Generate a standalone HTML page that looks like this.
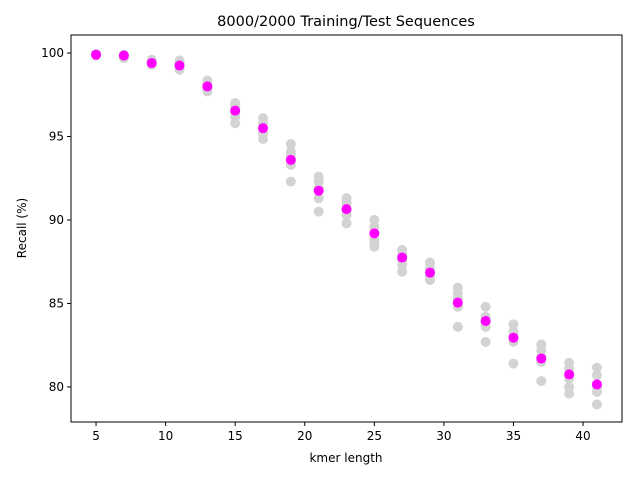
<!DOCTYPE html>
<html><head><meta charset="utf-8"><style>
body{margin:0;background:#fff}
svg text{font-family:"DejaVu Sans","Liberation Sans",sans-serif;fill:#000}
</style></head><body>
<svg id="c" width="640" height="480"></svg>
<script>
const kmers=[5,7,9,11,13,15,17,19,21,23,25,27,29,31,33,35,37,39,41];
const meanRecall=[99.9,99.85,99.4,99.25,98.0,96.55,95.5,93.6,91.75,90.65,89.2,87.75,86.85,85.05,83.95,82.95,81.7,80.75,80.15];
const runRecall=[
[99.9,99.95,99.85],[99.7,99.9,99.8],[99.6,99.3,99.4,99.5],[99.55,99.0,99.2,99.4],
[98.35,97.7,98.1,97.9],[97.0,96.8,96.2,95.8,96.4],[96.1,95.8,95.2,94.85,95.5],
[94.55,94.1,93.9,93.3,92.3],[92.6,92.3,91.9,91.3,90.5],[91.3,91.0,90.3,89.8,90.6],
[90.0,89.6,88.8,88.4,88.6],[88.2,87.9,87.3,86.9,87.6],[87.45,87.1,86.6,86.4],
[85.95,85.6,85.3,84.8,83.6],[84.8,84.2,83.9,83.6,82.7],[83.75,83.3,83.0,82.7,81.4],
[82.55,82.2,81.5,81.8,80.35],[81.45,81.1,80.5,80.0,79.6],[81.15,80.7,80.0,79.7,78.95]];
const xTicks=[5,10,15,20,25,30,35,40];
const yTicks=[80,85,90,95,100];
const L=71,R=622,T=35,B=422;
const xMin=3.2,xMax=42.8,yMin=77.9,yMax=101.08;
const X=v=>L+(v-xMin)/(xMax-xMin)*(R-L);
const Y=v=>B-(v-yMin)/(yMax-yMin)*(B-T);
const svg=document.getElementById('c');const NS='http://www.w3.org/2000/svg';
function mk(t,a,p){const e=document.createElementNS(NS,t);for(const k in a)e.setAttribute(k,a[k]);(p||svg).appendChild(e);return e;}
kmers.forEach((k,i)=>{runRecall[i].forEach(v=>{
const c=mk('circle',{cx:X(k),cy:Y(v),r:5,fill:'#d3d3d3'});

});});
kmers.forEach((k,i)=>{
const c=mk('circle',{cx:X(k),cy:Y(meanRecall[i]),r:5,fill:'#ff00ff'});

});
const fr=mk('rect',{x:L,y:T,width:R-L,height:B-T,fill:'none',stroke:'#000','stroke-width':1});


xTicks.forEach(v=>{mk('line',{x1:X(v),x2:X(v),y1:B,y2:B+4,stroke:'#000'});
const t=mk('text',{x:X(v),y:B+18,'text-anchor':'middle','font-size':12});t.textContent=v;

});
yTicks.forEach(v=>{mk('line',{x1:L-4,x2:L,y1:Y(v),y2:Y(v),stroke:'#000'});
const t=mk('text',{x:L-7,y:Y(v)+4,'text-anchor':'end','font-size':12});t.textContent=v;

});
</script>
<script>
(function(){const svg=document.getElementById('c');const NS='http://www.w3.org/2000/svg';
function tx(s,a,n){const e=document.createElementNS(NS,'text');for(const k in a)e.setAttribute(k,a[k]);e.textContent=s;


svg.appendChild(e);}
tx('8000/2000 Training/Test Sequences',{x:346,y:26,'text-anchor':'middle','font-size':14.5},'chart-title');
tx('kmer length',{x:346,y:462,'text-anchor':'middle','font-size':12},'x-axis-title');
tx('Recall (%)',{x:26,y:228,'text-anchor':'middle','font-size':12,transform:'rotate(-90 26 228)'},'y-axis-title');
})();
</script>
</body></html>
